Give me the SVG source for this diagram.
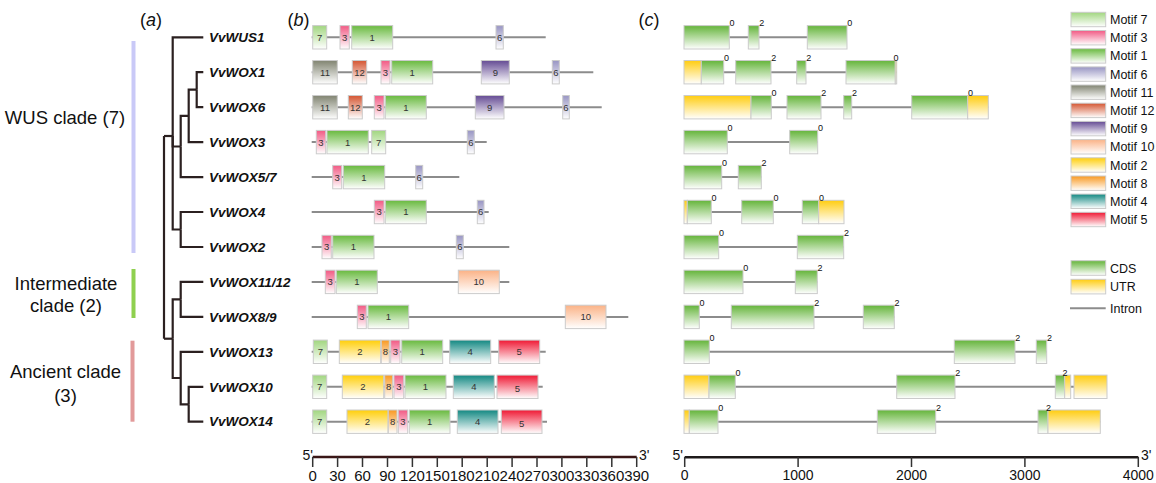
<svg xmlns="http://www.w3.org/2000/svg" width="1156" height="483" viewBox="0 0 1156 483">
<defs>
<linearGradient id="g7" x1="0" y1="0" x2="0" y2="1"><stop offset="0.05" stop-color="#a6d886"/><stop offset="1" stop-color="#ffffff"/></linearGradient>
<linearGradient id="g3" x1="0" y1="0" x2="0" y2="1"><stop offset="0.05" stop-color="#f2628a"/><stop offset="1" stop-color="#ffffff"/></linearGradient>
<linearGradient id="g1" x1="0" y1="0" x2="0" y2="1"><stop offset="0.05" stop-color="#70bd48"/><stop offset="1" stop-color="#ffffff"/></linearGradient>
<linearGradient id="g6" x1="0" y1="0" x2="0" y2="1"><stop offset="0.05" stop-color="#9d9ac6"/><stop offset="1" stop-color="#ffffff"/></linearGradient>
<linearGradient id="g11" x1="0" y1="0" x2="0" y2="1"><stop offset="0.05" stop-color="#878a78"/><stop offset="1" stop-color="#ffffff"/></linearGradient>
<linearGradient id="g12" x1="0" y1="0" x2="0" y2="1"><stop offset="0.05" stop-color="#d65e3c"/><stop offset="1" stop-color="#ffffff"/></linearGradient>
<linearGradient id="g9" x1="0" y1="0" x2="0" y2="1"><stop offset="0.05" stop-color="#6c5499"/><stop offset="1" stop-color="#ffffff"/></linearGradient>
<linearGradient id="g10" x1="0" y1="0" x2="0" y2="1"><stop offset="0.05" stop-color="#fbb68c"/><stop offset="1" stop-color="#ffffff"/></linearGradient>
<linearGradient id="g2" x1="0" y1="0" x2="0" y2="1"><stop offset="0.05" stop-color="#ffd116"/><stop offset="1" stop-color="#ffffff"/></linearGradient>
<linearGradient id="g8" x1="0" y1="0" x2="0" y2="1"><stop offset="0.05" stop-color="#f99e2c"/><stop offset="1" stop-color="#ffffff"/></linearGradient>
<linearGradient id="g4" x1="0" y1="0" x2="0" y2="1"><stop offset="0.05" stop-color="#1e8e88"/><stop offset="1" stop-color="#ffffff"/></linearGradient>
<linearGradient id="g5" x1="0" y1="0" x2="0" y2="1"><stop offset="0.05" stop-color="#f0243e"/><stop offset="1" stop-color="#ffffff"/></linearGradient>
<linearGradient id="gc" x1="0" y1="0" x2="0" y2="1"><stop offset="0.05" stop-color="#6cb844"/><stop offset="1" stop-color="#ffffff"/></linearGradient>
<linearGradient id="gu" x1="0" y1="0" x2="0" y2="1"><stop offset="0.05" stop-color="#ffcf1c"/><stop offset="1" stop-color="#ffffff"/></linearGradient>
</defs>
<style>
text{font-family:"Liberation Sans",Arial,sans-serif;fill:#111}
.lbl{font-size:18.5px;text-anchor:middle}
.pl{font-size:18px;text-anchor:middle}
.leaf{font-size:13.5px;font-weight:bold;font-style:italic}
.bn{font-size:9.5px;text-anchor:middle;fill:#333}
.ph{font-size:9px;fill:#111}
.tk{font-size:15px;text-anchor:middle}
.tkc{font-size:14px;text-anchor:middle}
.prime{font-size:14px}
.lg{font-size:12.5px}
.tree path{fill:none;stroke:#2b2020;stroke-width:2.2}
.intr{stroke:#8c8c8c;stroke-width:2}
rect.b{stroke:#cbcbcb;stroke-width:1}
.m7{fill:url(#g7)}.m3{fill:url(#g3)}.m1{fill:url(#g1)}.m6{fill:url(#g6)}
.m11{fill:url(#g11)}.m12{fill:url(#g12)}.m9{fill:url(#g9)}.m10{fill:url(#g10)}
.m2{fill:url(#g2)}.m8{fill:url(#g8)}.m4{fill:url(#g4)}.m5{fill:url(#g5)}
.cds{fill:url(#gc)}.utr{fill:url(#gu)}
.axb{stroke:#3a1616;stroke-width:2.5}
.axc{stroke:#1e1a1a;stroke-width:2.5}
.tick{stroke:#333;stroke-width:1.5}
</style>

<!-- panel labels -->
<text class="pl" x="151" y="26">(<tspan font-style="italic">a</tspan>)</text>
<text class="pl" x="298.5" y="26">(<tspan font-style="italic">b</tspan>)</text>
<text class="pl" x="649" y="26">(<tspan font-style="italic">c</tspan>)</text>

<!-- clades -->
<g id="clade-wus">
<rect x="131.5" y="41" width="4" height="212" fill="#c9c9f7"/>
<text class="lbl" x="65" y="124">WUS clade (7)</text>
</g>
<g id="clade-intermediate">
<rect x="131.5" y="269" width="4" height="49" fill="#8fd04f"/>
<text class="lbl" x="66" y="290">Intermediate</text>
<text class="lbl" x="66" y="312">clade (2)</text>
</g>
<g id="clade-ancient">
<rect x="130.5" y="340.7" width="4" height="81" fill="#e29a9a"/>
<text class="lbl" x="65.5" y="378">Ancient clade</text>
<text class="lbl" x="65.5" y="402">(3)</text>
</g>

<!-- tree connectors -->
<g id="connectors" class="tree">
<path d="M164,136 V338.7"/>
<path d="M164,136 H172.7"/>
<path d="M164,338.7 H172.7"/>
<path d="M172.7,136 V37.3 H203.3"/>
<path d="M172.7,136 V146.5 H180.7"/>
<path d="M172.7,136 V229.5 H180.7"/>
<path d="M180.7,146.5 V115.9 H188.7"/>
<path d="M180.7,146.5 V177.1 H203.3"/>
<path d="M188.7,115.9 V89.7 H196.7"/>
<path d="M188.7,115.9 V142.1 H203.3"/>
<path d="M196.7,89.7 V72.2 H203.3"/>
<path d="M196.7,89.7 V107.2 H203.3"/>
<path d="M180.7,229.5 V212 H203.3"/>
<path d="M180.7,229.5 V247 H203.3"/>
<path d="M172.7,338.7 V299.4 H180.7"/>
<path d="M172.7,338.7 V378 H180.7"/>
<path d="M180.7,299.4 V281.9 H203.3"/>
<path d="M180.7,299.4 V316.9 H203.3"/>
<path d="M180.7,378 V351.8 H203.3"/>
<path d="M180.7,378 V404.3 H188.7"/>
<path d="M188.7,404.3 V386.8 H203.3"/>
<path d="M188.7,404.3 V421.7 H203.3"/>
</g>

<!-- leaf labels -->
<g id="leaves">
<text class="leaf" x="209" y="42">VvWUS1</text>
<text class="leaf" x="209" y="76.9">VvWOX1</text>
<text class="leaf" x="209" y="111.9">VvWOX6</text>
<text class="leaf" x="209" y="146.8">VvWOX3</text>
<text class="leaf" x="209" y="181.8">VvWOX5/7</text>
<text class="leaf" x="209" y="216.7">VvWOX4</text>
<text class="leaf" x="209" y="251.7">VvWOX2</text>
<text class="leaf" x="209" y="286.6">VvWOX11/12</text>
<text class="leaf" x="209" y="321.6">VvWOX8/9</text>
<text class="leaf" x="209" y="356.5">VvWOX13</text>
<text class="leaf" x="209" y="391.5">VvWOX10</text>
<text class="leaf" x="209" y="426.4">VvWOX14</text>
</g>

<!-- panel b: motifs -->
<g id="motifs-VvWUS1" transform="translate(0,37.3)">
<line class="intr" x1="311.7" y1="0" x2="545.7" y2="0"/>
<rect class="b m7" x="312.7" y="-11.7" width="14" height="23.4"/><text class="bn" x="319.7" y="3.4">7</text>
<rect class="b m3" x="340" y="-11.7" width="9.3" height="23.4"/><text class="bn" x="344.7" y="3.4">3</text>
<rect class="b m1" x="351.7" y="-11.7" width="41" height="23.4"/><text class="bn" x="372.2" y="3.4">1</text>
<rect class="b m6" x="496" y="-11.7" width="7.3" height="23.4"/><text class="bn" x="499.7" y="3.4">6</text>
</g>
<g id="motifs-VvWOX1" transform="translate(0,72.2)">
<line class="intr" x1="311.7" y1="0" x2="593.3" y2="0"/>
<rect class="b m11" x="312.7" y="-11.7" width="24.6" height="23.4"/><text class="bn" x="325" y="3.4">11</text>
<rect class="b m12" x="352.3" y="-11.7" width="14.4" height="23.4"/><text class="bn" x="359.5" y="3.4">12</text>
<rect class="b m3" x="381" y="-11.7" width="9" height="23.4"/><text class="bn" x="385.5" y="3.4">3</text>
<rect class="b m1" x="391.7" y="-11.7" width="41" height="23.4"/><text class="bn" x="412.2" y="3.4">1</text>
<rect class="b m9" x="481.3" y="-11.7" width="28" height="23.4"/><text class="bn" x="495.3" y="3.4">9</text>
<rect class="b m6" x="552.3" y="-11.7" width="7" height="23.4"/><text class="bn" x="555.8" y="3.4">6</text>
</g>
<g id="motifs-VvWOX6" transform="translate(0,107.2)">
<line class="intr" x1="311.7" y1="0" x2="601.7" y2="0"/>
<rect class="b m11" x="312.7" y="-11.7" width="24.6" height="23.4"/><text class="bn" x="325" y="3.4">11</text>
<rect class="b m12" x="348.3" y="-11.7" width="14" height="23.4"/><text class="bn" x="355.3" y="3.4">12</text>
<rect class="b m3" x="374.3" y="-11.7" width="9.7" height="23.4"/><text class="bn" x="379.2" y="3.4">3</text>
<rect class="b m1" x="385.3" y="-11.7" width="41" height="23.4"/><text class="bn" x="405.8" y="3.4">1</text>
<rect class="b m9" x="475.3" y="-11.7" width="28.7" height="23.4"/><text class="bn" x="489.7" y="3.4">9</text>
<rect class="b m6" x="562.7" y="-11.7" width="6.6" height="23.4"/><text class="bn" x="566" y="3.4">6</text>
</g>
<g id="motifs-VvWOX3" transform="translate(0,142.1)">
<line class="intr" x1="311.7" y1="0" x2="486.7" y2="0"/>
<rect class="b m3" x="316.3" y="-11.7" width="9.4" height="23.4"/><text class="bn" x="321" y="3.4">3</text>
<rect class="b m1" x="327" y="-11.7" width="41.3" height="23.4"/><text class="bn" x="347.7" y="3.4">1</text>
<rect class="b m7" x="371.7" y="-11.7" width="14" height="23.4"/><text class="bn" x="378.7" y="3.4">7</text>
<rect class="b m6" x="467.3" y="-11.7" width="7" height="23.4"/><text class="bn" x="470.8" y="3.4">6</text>
</g>
<g id="motifs-VvWOX5-7" transform="translate(0,177.1)">
<line class="intr" x1="311.7" y1="0" x2="459.3" y2="0"/>
<rect class="b m3" x="332.7" y="-11.7" width="9" height="23.4"/><text class="bn" x="337.2" y="3.4">3</text>
<rect class="b m1" x="343.3" y="-11.7" width="41.4" height="23.4"/><text class="bn" x="364" y="3.4">1</text>
<rect class="b m6" x="415.7" y="-11.7" width="7" height="23.4"/><text class="bn" x="419.2" y="3.4">6</text>
</g>
<g id="motifs-VvWOX4" transform="translate(0,212)">
<line class="intr" x1="311.7" y1="0" x2="488.7" y2="0"/>
<rect class="b m3" x="374.3" y="-11.7" width="9.7" height="23.4"/><text class="bn" x="379.2" y="3.4">3</text>
<rect class="b m1" x="385.3" y="-11.7" width="41" height="23.4"/><text class="bn" x="405.8" y="3.4">1</text>
<rect class="b m6" x="477.3" y="-11.7" width="6.7" height="23.4"/><text class="bn" x="480.7" y="3.4">6</text>
</g>
<g id="motifs-VvWOX2" transform="translate(0,247)">
<line class="intr" x1="311.7" y1="0" x2="509.3" y2="0"/>
<rect class="b m3" x="322" y="-11.7" width="9.3" height="23.4"/><text class="bn" x="326.7" y="3.4">3</text>
<rect class="b m1" x="332.7" y="-11.7" width="41.3" height="23.4"/><text class="bn" x="353.4" y="3.4">1</text>
<rect class="b m6" x="456.3" y="-11.7" width="7" height="23.4"/><text class="bn" x="459.8" y="3.4">6</text>
</g>
<g id="motifs-VvWOX11-12" transform="translate(0,281.9)">
<line class="intr" x1="311.7" y1="0" x2="509.3" y2="0"/>
<rect class="b m3" x="325.3" y="-11.7" width="9.7" height="23.4"/><text class="bn" x="330.2" y="3.4">3</text>
<rect class="b m1" x="336.3" y="-11.7" width="41" height="23.4"/><text class="bn" x="356.8" y="3.4">1</text>
<rect class="b m10" x="458.3" y="-11.7" width="41" height="23.4"/><text class="bn" x="478.8" y="3.4">10</text>
</g>
<g id="motifs-VvWOX8-9" transform="translate(0,316.9)">
<line class="intr" x1="311.7" y1="0" x2="628.3" y2="0"/>
<rect class="b m3" x="357.3" y="-11.7" width="9" height="23.4"/><text class="bn" x="361.8" y="3.4">3</text>
<rect class="b m1" x="368" y="-11.7" width="40.7" height="23.4"/><text class="bn" x="388.4" y="3.4">1</text>
<rect class="b m10" x="565.3" y="-11.7" width="40.7" height="23.4"/><text class="bn" x="585.7" y="3.4">10</text>
</g>
<g id="motifs-VvWOX13" transform="translate(0,351.8)">
<line class="intr" x1="311.7" y1="0" x2="545.7" y2="0"/>
<rect class="b m7" x="313.3" y="-11.7" width="14" height="23.4"/><text class="bn" x="320.3" y="3.4">7</text>
<rect class="b m2" x="339.3" y="-11.7" width="41.4" height="23.4"/><text class="bn" x="360" y="3.4">2</text>
<rect class="b m8" x="381.3" y="-11.7" width="8" height="23.4"/><text class="bn" x="385.3" y="3.4">8</text>
<rect class="b m3" x="390.7" y="-11.7" width="9.3" height="23.4"/><text class="bn" x="395.3" y="3.4">3</text>
<rect class="b m1" x="401.7" y="-11.7" width="41" height="23.4"/><text class="bn" x="422.2" y="3.4">1</text>
<rect class="b m4" x="449.7" y="-11.7" width="41" height="23.4"/><text class="bn" x="470.2" y="3.4">4</text>
<rect class="b m5" x="498.7" y="-11.7" width="41" height="23.4"/><text class="bn" x="519.2" y="3.4">5</text>
</g>
<g id="motifs-VvWOX10" transform="translate(0,386.8)">
<line class="intr" x1="311.7" y1="0" x2="542.7" y2="0"/>
<rect class="b m7" x="312.7" y="-11.7" width="14" height="23.4"/><text class="bn" x="319.7" y="3.4">7</text>
<rect class="b m2" x="342.3" y="-11.7" width="41.4" height="23.4"/><text class="bn" x="363" y="3.4">2</text>
<rect class="b m8" x="384.7" y="-11.7" width="8" height="23.4"/><text class="bn" x="388.7" y="3.4">8</text>
<rect class="b m3" x="394" y="-11.7" width="9.7" height="23.4"/><text class="bn" x="398.8" y="3.4">3</text>
<rect class="b m1" x="405" y="-11.7" width="41" height="23.4"/><text class="bn" x="425.5" y="3.4">1</text>
<rect class="b m4" x="453.3" y="-11.7" width="41" height="23.4"/><text class="bn" x="473.8" y="3.4">4</text>
<rect class="b m5" x="497" y="-11.7" width="41" height="23.4"/><text class="bn" x="517.5" y="5.4">5</text>
</g>
<g id="motifs-VvWOX14" transform="translate(0,421.7)">
<line class="intr" x1="311.7" y1="0" x2="547" y2="0"/>
<rect class="b m7" x="312.7" y="-11.7" width="14" height="23.4"/><text class="bn" x="319.7" y="3.4">7</text>
<rect class="b m2" x="347" y="-11.7" width="41" height="23.4"/><text class="bn" x="367.5" y="3.4">2</text>
<rect class="b m8" x="388.3" y="-11.7" width="8.7" height="23.4"/><text class="bn" x="392.7" y="3.4">8</text>
<rect class="b m3" x="398.3" y="-11.7" width="9.4" height="23.4"/><text class="bn" x="403" y="3.4">3</text>
<rect class="b m1" x="409.3" y="-11.7" width="40.7" height="23.4"/><text class="bn" x="429.7" y="3.4">1</text>
<rect class="b m4" x="457.3" y="-11.7" width="40.7" height="23.4"/><text class="bn" x="477.7" y="3.4">4</text>
<rect class="b m5" x="501.3" y="-11.7" width="40.7" height="23.4"/><text class="bn" x="521.7" y="5.4">5</text>
</g>

<!-- panel b axis -->
<g id="axis-b">
<line class="axb" x1="312.7" y1="457" x2="636.7" y2="457"/>
<g class="tick">
<line x1="312.7" y1="457" x2="312.7" y2="467"/><line x1="337.6" y1="457" x2="337.6" y2="467"/><line x1="362.5" y1="457" x2="362.5" y2="467"/><line x1="387.5" y1="457" x2="387.5" y2="467"/><line x1="412.4" y1="457" x2="412.4" y2="467"/><line x1="437.3" y1="457" x2="437.3" y2="467"/><line x1="462.2" y1="457" x2="462.2" y2="467"/><line x1="487.2" y1="457" x2="487.2" y2="467"/><line x1="512.1" y1="457" x2="512.1" y2="467"/><line x1="537" y1="457" x2="537" y2="467"/><line x1="561.9" y1="457" x2="561.9" y2="467"/><line x1="586.8" y1="457" x2="586.8" y2="467"/><line x1="611.8" y1="457" x2="611.8" y2="467"/><line x1="636.7" y1="457" x2="636.7" y2="467"/>
</g>
<text class="tk" x="312.7" y="481">0</text><text class="tk" x="337.6" y="481">30</text><text class="tk" x="362.5" y="481">60</text><text class="tk" x="387.5" y="481">90</text><text class="tk" x="412.4" y="481">120</text><text class="tk" x="437.3" y="481">150</text><text class="tk" x="462.2" y="481">180</text><text class="tk" x="487.2" y="481">210</text><text class="tk" x="512.1" y="481">240</text><text class="tk" x="537" y="481">270</text><text class="tk" x="561.9" y="481">300</text><text class="tk" x="586.8" y="481">330</text><text class="tk" x="611.8" y="481">360</text><text class="tk" x="636.7" y="481">390</text>
<text class="prime" x="302.5" y="460">5'</text>
<text class="prime" x="639" y="460">3'</text>
</g>

<!-- panel c: gene structures -->
<g id="gene-VvWUS1" transform="translate(0,37.3)">
<line class="intr" x1="684" y1="0" x2="847" y2="0"/>
<rect class="b cds" x="684" y="-11.7" width="45.3" height="23.4"/><rect class="b cds" x="748.3" y="-11.7" width="10.7" height="23.4"/><rect class="b cds" x="807.3" y="-11.7" width="39.7" height="23.4"/>
<text class="ph" x="729.5" y="-11">0</text><text class="ph" x="759.2" y="-11">2</text><text class="ph" x="847.2" y="-11">0</text>
</g>
<g id="gene-VvWOX1" transform="translate(0,72.2)">
<line class="intr" x1="684" y1="0" x2="896.7" y2="0"/>
<rect class="b utr" x="684" y="-11.7" width="17.3" height="23.4"/><rect class="b cds" x="701.3" y="-11.7" width="22.4" height="23.4"/><rect class="b cds" x="735.7" y="-11.7" width="35.3" height="23.4"/><rect class="b cds" x="796.7" y="-11.7" width="9.3" height="23.4"/><rect class="b cds" x="846" y="-11.7" width="49.3" height="23.4"/><rect class="b utr" x="895.3" y="-11.7" width="1.4" height="23.4"/>
<text class="ph" x="723.9" y="-11">0</text><text class="ph" x="771.2" y="-11">2</text><text class="ph" x="806.2" y="-11">2</text><text class="ph" x="893.5" y="-11">0</text>
</g>
<g id="gene-VvWOX6" transform="translate(0,107.2)">
<line class="intr" x1="684" y1="0" x2="988.3" y2="0"/>
<rect class="b utr" x="684" y="-11.7" width="67" height="23.4"/><rect class="b cds" x="751" y="-11.7" width="20.3" height="23.4"/><rect class="b cds" x="787" y="-11.7" width="34" height="23.4"/><rect class="b cds" x="843.7" y="-11.7" width="8" height="23.4"/><rect class="b cds" x="911.7" y="-11.7" width="56" height="23.4"/><rect class="b utr" x="967.7" y="-11.7" width="20.6" height="23.4"/>
<text class="ph" x="771.5" y="-11">0</text><text class="ph" x="821.2" y="-11">2</text><text class="ph" x="851.9" y="-11">2</text><text class="ph" x="967.9" y="-11">0</text>
</g>
<g id="gene-VvWOX3" transform="translate(0,142.1)">
<line class="intr" x1="684" y1="0" x2="817.7" y2="0"/>
<rect class="b cds" x="684" y="-11.7" width="43.3" height="23.4"/><rect class="b cds" x="789.7" y="-11.7" width="28" height="23.4"/>
<text class="ph" x="727.5" y="-11">0</text><text class="ph" x="817.9" y="-11">0</text>
</g>
<g id="gene-VvWOX5-7" transform="translate(0,177.1)">
<line class="intr" x1="684" y1="0" x2="761.3" y2="0"/>
<rect class="b cds" x="684" y="-11.7" width="37.7" height="23.4"/><rect class="b cds" x="738.3" y="-11.7" width="23" height="23.4"/>
<text class="ph" x="721.9" y="-11">0</text><text class="ph" x="761.5" y="-11">2</text>
</g>
<g id="gene-VvWOX4" transform="translate(0,212)">
<line class="intr" x1="684" y1="0" x2="844" y2="0"/>
<rect class="b utr" x="684" y="-11.7" width="3.3" height="23.4"/><rect class="b cds" x="687.3" y="-11.7" width="24" height="23.4"/><rect class="b cds" x="741.7" y="-11.7" width="31.6" height="23.4"/><rect class="b cds" x="802.3" y="-11.7" width="16.4" height="23.4"/><rect class="b utr" x="818.7" y="-11.7" width="25.3" height="23.4"/>
<text class="ph" x="711.5" y="-11">0</text><text class="ph" x="773.5" y="-11">0</text><text class="ph" x="818.9" y="-11">0</text>
</g>
<g id="gene-VvWOX2" transform="translate(0,247)">
<line class="intr" x1="684" y1="0" x2="843.7" y2="0"/>
<rect class="b cds" x="684" y="-11.7" width="34.7" height="23.4"/><rect class="b cds" x="797.3" y="-11.7" width="46.4" height="23.4"/>
<text class="ph" x="718.9" y="-11">0</text><text class="ph" x="843.9" y="-11">2</text>
</g>
<g id="gene-VvWOX11-12" transform="translate(0,281.9)">
<line class="intr" x1="684" y1="0" x2="817.3" y2="0"/>
<rect class="b cds" x="684" y="-11.7" width="59" height="23.4"/><rect class="b cds" x="795.3" y="-11.7" width="22" height="23.4"/>
<text class="ph" x="743.2" y="-11">0</text><text class="ph" x="817.5" y="-11">2</text>
</g>
<g id="gene-VvWOX8-9" transform="translate(0,316.9)">
<line class="intr" x1="684" y1="0" x2="894.3" y2="0"/>
<rect class="b cds" x="684" y="-11.7" width="15.3" height="23.4"/><rect class="b cds" x="731.3" y="-11.7" width="82.7" height="23.4"/><rect class="b cds" x="863.3" y="-11.7" width="31" height="23.4"/>
<text class="ph" x="699.5" y="-11">0</text><text class="ph" x="814.2" y="-11">2</text><text class="ph" x="894.5" y="-11">2</text>
</g>
<g id="gene-VvWOX13" transform="translate(0,351.8)">
<line class="intr" x1="684" y1="0" x2="1046.7" y2="0"/>
<rect class="b cds" x="684" y="-11.7" width="25.3" height="23.4"/><rect class="b cds" x="954.3" y="-11.7" width="60.7" height="23.4"/><rect class="b cds" x="1036.3" y="-11.7" width="10.4" height="23.4"/>
<text class="ph" x="709.5" y="-11">0</text><text class="ph" x="1015.2" y="-11">2</text><text class="ph" x="1046.9" y="-11">2</text>
</g>
<g id="gene-VvWOX10" transform="translate(0,386.8)">
<line class="intr" x1="684" y1="0" x2="1107" y2="0"/>
<rect class="b utr" x="684" y="-11.7" width="25" height="23.4"/><rect class="b cds" x="709" y="-11.7" width="26.3" height="23.4"/><rect class="b cds" x="896.7" y="-11.7" width="58.3" height="23.4"/><rect class="b cds" x="1055.3" y="-11.7" width="9.4" height="23.4"/><rect class="b utr" x="1064.7" y="-11.7" width="6" height="23.4"/><rect class="b utr" x="1074" y="-11.7" width="33" height="23.4"/>
<text class="ph" x="735.5" y="-11">0</text><text class="ph" x="955.2" y="-11">2</text><text class="ph" x="1062.5" y="-11">2</text>
</g>
<g id="gene-VvWOX14" transform="translate(0,421.7)">
<line class="intr" x1="684" y1="0" x2="1100.3" y2="0"/>
<rect class="b utr" x="684" y="-11.7" width="5.3" height="23.4"/><rect class="b cds" x="689.3" y="-11.7" width="28.7" height="23.4"/><rect class="b cds" x="877.3" y="-11.7" width="58.4" height="23.4"/><rect class="b cds" x="1038" y="-11.7" width="10" height="23.4"/><rect class="b utr" x="1048" y="-11.7" width="52.3" height="23.4"/>
<text class="ph" x="718.2" y="-11">0</text><text class="ph" x="935.9" y="-11">2</text><text class="ph" x="1046" y="-11">2</text>
</g>

<!-- panel c axis -->
<g id="axis-c">
<line class="axc" x1="684.7" y1="457.3" x2="1138.3" y2="457.3"/>
<g class="tick">
<line x1="684.7" y1="457" x2="684.7" y2="467"/><line x1="798.1" y1="457" x2="798.1" y2="467"/><line x1="911.5" y1="457" x2="911.5" y2="467"/><line x1="1024.9" y1="457" x2="1024.9" y2="467"/><line x1="1138.3" y1="457" x2="1138.3" y2="467"/>
</g>
<text class="tkc" x="684.7" y="480">0</text><text class="tkc" x="798.1" y="480">1000</text><text class="tkc" x="911.5" y="480">2000</text><text class="tkc" x="1024.9" y="480">3000</text><text class="tkc" x="1138.3" y="480">4000</text>
<text class="prime" x="672.5" y="460">5'</text>
<text class="prime" x="1141" y="460">3'</text>
</g>

<!-- legend -->
<g id="legend">
<rect class="b m7" x="1071" y="12.3" width="34.7" height="14.4"/><text class="lg" x="1110" y="24">Motif 7</text>
<rect class="b m3" x="1071" y="30.5" width="34.7" height="14.4"/><text class="lg" x="1110" y="42.2">Motif 3</text>
<rect class="b m1" x="1071" y="48.7" width="34.7" height="14.4"/><text class="lg" x="1110" y="60.4">Motif 1</text>
<rect class="b m6" x="1071" y="66.9" width="34.7" height="14.4"/><text class="lg" x="1110" y="78.6">Motif 6</text>
<rect class="b m11" x="1071" y="85" width="34.7" height="14.4"/><text class="lg" x="1110" y="96.7">Motif 11</text>
<rect class="b m12" x="1071" y="103.2" width="34.7" height="14.4"/><text class="lg" x="1110" y="114.9">Motif 12</text>
<rect class="b m9" x="1071" y="121.4" width="34.7" height="14.4"/><text class="lg" x="1110" y="133.1">Motif 9</text>
<rect class="b m10" x="1071" y="139.6" width="34.7" height="14.4"/><text class="lg" x="1110" y="151.3">Motif 10</text>
<rect class="b m2" x="1071" y="157.8" width="34.7" height="14.4"/><text class="lg" x="1110" y="169.5">Motif 2</text>
<rect class="b m8" x="1071" y="176" width="34.7" height="14.4"/><text class="lg" x="1110" y="187.7">Motif 8</text>
<rect class="b m4" x="1071" y="194.1" width="34.7" height="14.4"/><text class="lg" x="1110" y="205.8">Motif 4</text>
<rect class="b m5" x="1071" y="212.3" width="34.7" height="14.4"/><text class="lg" x="1110" y="224">Motif 5</text>
<rect class="b cds" x="1071" y="260.7" width="34.7" height="14.6"/><text class="lg" x="1110" y="272.5">CDS</text>
<rect class="b utr" x="1071" y="279.3" width="34.7" height="14.6"/><text class="lg" x="1110" y="291">UTR</text>
<line class="intr" x1="1070" y1="308.3" x2="1105.7" y2="308.3"/><text class="lg" x="1110" y="312.5">Intron</text>
</g>
</svg>
